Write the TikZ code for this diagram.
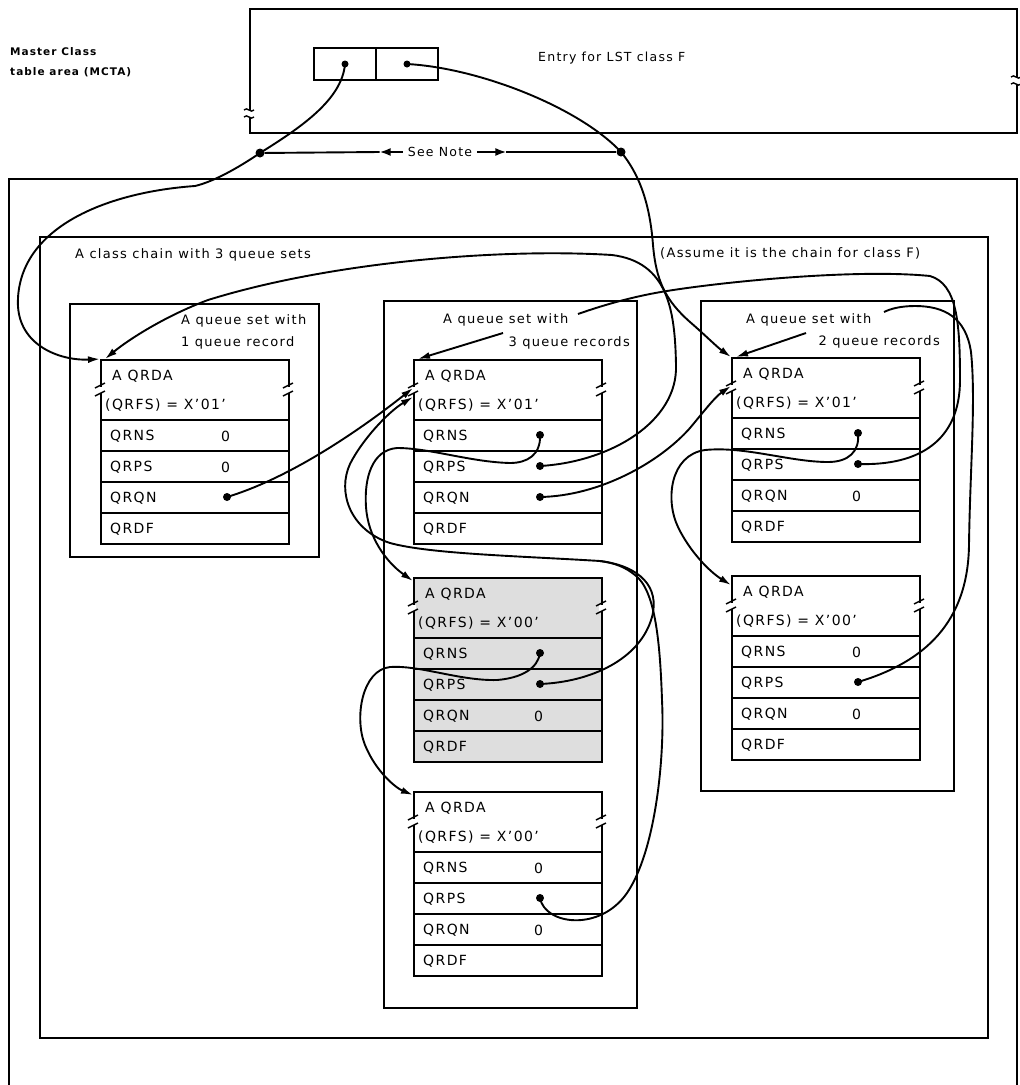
\documentclass[tikz,border=0pt]{standalone}
\usepackage{fontspec}
\setmainfont{DejaVu Sans}[LetterSpace=10]
\usetikzlibrary{arrows.meta,calc}
\tikzset{
 frame/.style={draw, line width=1.8pt, inner sep=0pt, anchor=north west},
 rowline/.style={line width=1.5pt},
 link/.style={line width=1.9pt},
 arr/.style={link, -{Latex[length=12pt,width=7pt]}},
 lbl/.style={inner sep=0pt, font=\fontsize{13}{15}\selectfont},
 chainlbl/.style={inner sep=0pt, anchor=west, font=\fontsize{13}{15}\selectfont},
 toplbl/.style={inner sep=0pt, font=\fontsize{12.5}{14}\selectfont},
 rtxt/.style={inner sep=0pt, anchor=west, font=\fontsize{14}{16}\selectfont},
 ptr/.style={circle, fill=black, inner sep=0pt, minimum size=8pt},
 brk/.style={line width=1.4pt},
}
% slanted break mark on a vertical edge of a QRDA
\newcommand\qbreak[2]{%
 \fill[white] (#1-2.5,#2-3) rectangle (#1+2.5,#2+3);
 \draw[brk] (#1-5,#2-2) -- (#1+5,#2-7);
 \draw[brk] (#1-5,#2+6) -- (#1+5,#2+1);}
% wavy break mark on a vertical edge
\newcommand\vbreak[2]{%
 \fill[white] (#1-2.5,#2-3.5) rectangle (#1+2.5,#2+3.5);
 \draw[brk] (#1-5,#2-3) .. controls (#1-2,#2-7) and (#1+2,#2+1) .. (#1+5,#2-3);
 \draw[brk] (#1-5,#2+4) .. controls (#1-2,#2) and (#1+2,#2+8) .. (#1+5,#2+4);}
% a QRDA record: name, x, y, qrfs, qrns val, qrps val, qrqn val, fill
\newcommand\qrda[8]{%
\begin{scope}[shift={(#2,#3)}]
\node[frame, fill=#8, minimum width=188pt, minimum height=184pt] (#1) at (0,0) {};
\foreach \yy in {61,92,123,154} {\draw[rowline] (0,\yy) -- (188,\yy);}
\qbreak{0}{31}\qbreak{188}{31}
\node[rtxt] (#1-a) at (12,17) {A QRDA};
\node[rtxt] (#1-f) at (5,46) {(QRFS) = X'#4'};
\node[rtxt] (#1-n) at (10,77) {QRNS};
\node[rtxt] (#1-p) at (10,108) {QRPS};
\node[rtxt] (#1-q) at (10,139) {QRQN};
\node[rtxt] (#1-d) at (10,170) {QRDF};
\node[rtxt] (#1-nv) at (121,77) {#5};
\node[rtxt] (#1-pv) at (121,108) {#6};
\node[rtxt] (#1-qv) at (121,139) {#7};
\coordinate (#1-nsd) at (127,76);
\coordinate (#1-psd) at (127,107);
\coordinate (#1-qnd) at (127,138);
\coordinate (#1-tl) at (0,0);
\coordinate (#1-tl2) at (5,0);
\coordinate (#1-b1) at (0,29);
\coordinate (#1-b2) at (0,38);
\coordinate (#1-e) at (0,10);
\coordinate (#1-e2) at (0,4);
\end{scope}}
\begin{document}
\begin{tikzpicture}[x=1pt,y=-1pt]
\useasboundingbox (0,0) rectangle (1020,1085);
\clip (0,0) rectangle (1020,1085);
\fill[white] (0,0) rectangle (1020,1085);

% ---------- Master class table area
\node[frame, minimum width=767pt, minimum height=124pt] (mcta) at (249,8) {};
\vbreak{249}{113}
\vbreak{1016}{80}
\node[draw, line width=1.7pt, minimum width=62pt, minimum height=32pt, inner sep=0pt] (cellA) at (345,64) {};
\node[draw, line width=1.7pt, minimum width=62pt, minimum height=32pt, inner sep=0pt] (cellB) at (407,64) {};
\node[ptr, minimum size=7pt] (dA) at (cellA.center) {};
\node[ptr, minimum size=7pt] (dB) at (cellB.center) {};
\node[toplbl, anchor=west] (entry) at (538,58) {Entry for LST class F};
\node[toplbl, anchor=west, font=\bfseries\fontsize{10.5}{12}\selectfont] (mc1) at (10,52) {Master Class};
\node[toplbl, anchor=west, font=\bfseries\fontsize{10.5}{12}\selectfont] (mc2) at (10,72) {table area (MCTA)};

% ---------- See Note
\node[ptr, minimum size=9pt] (seeL) at (260,153) {};
\node[ptr, minimum size=9pt] (seeR) at (621,152) {};
\node[toplbl] (note) at (440,152) {See Note};
\path (note.west) ++(-28,0) coordinate (nAL);
\path (note.east) ++(34,0) coordinate (nAR);
\draw[arr, -{Latex[length=11pt,width=8pt]}] ([xshift=-5pt]note.west) -- (nAL);
\draw[link] (nAL) -- (seeL);
\draw[arr, -{Latex[length=11pt,width=8pt]}] ([xshift=5pt]note.east) -- (nAR);
\draw[link] (nAR) -- (seeR);

% ---------- outer areas
\node[frame, minimum width=1008pt, minimum height=930pt] (outer) at (8,178) {};
\node[frame, minimum width=948pt, minimum height=801pt] (chain) at (39,236) {};
\node[chainlbl] (chainA) at (75,255) {A class chain with 3 queue sets};
\node[chainlbl] (chainB) at (660,253) {(Assume it is the chain for class F)};

% ---------- queue sets
\node[frame, minimum width=249pt, minimum height=253pt] (qsL) at (69,303) {};
\node[frame, minimum width=253pt, minimum height=707pt] (qsM) at (383,300) {};
\node[frame, minimum width=253pt, minimum height=490pt] (qsR) at (700,300) {};

\node[lbl, anchor=west] (tL1) at (181,321) {A queue set with};
\node[lbl, anchor=west] (tL2) at (181,343) {1 queue record};
\node[lbl, anchor=west] (tM1) at (443,320) {A queue set with};
\node[lbl, anchor=east] (tM2) at (630,343) {3 queue records};
\node[lbl, anchor=west] (tR1) at (746,320) {A queue set with};
\node[lbl, anchor=east] (tR2) at (940,342) {2 queue records};

% ---------- QRDAs
\qrda{L}{100}{359}{01}{0}{0}{}{white}
\qrda{m1}{413}{359}{01}{}{}{}{white}
\qrda{m2}{413}{577}{00}{}{}{0}{black!13}
\qrda{m3}{413}{791}{00}{0}{}{0}{white}
\qrda{r1}{731}{357}{01}{}{}{0}{white}
\qrda{r2}{731}{575}{00}{0}{}{0}{white}

% pointer dots
\node[ptr] (dLq) at (L-qnd) {};
\node[ptr] (dm1n) at (m1-nsd) {};
\node[ptr] (dm1p) at (m1-psd) {};
\node[ptr] (dm1q) at (m1-qnd) {};
\node[ptr] (dm2n) at (m2-nsd) {};
\node[ptr] (dm2p) at (m2-psd) {};
\node[ptr] (dm3p) at (m3-psd) {};
\node[ptr] (dr1n) at (r1-nsd) {};
\node[ptr] (dr1p) at (r1-psd) {};
\node[ptr] (dr2p) at (r2-psd) {};

\coordinate (mwith) at (578,314);
\coordinate (mfrom) at (503,333);
\coordinate (rwith) at (884,312);
\coordinate (rfrom) at (806,333);
\coordinate (mjoin) at (600,561);

% ---------- connectors
% MCTA left pointer -> first queue set
\draw[arr] (dA.center) .. controls (342,100) and (300,128) .. (seeL.center)
  .. controls (235,170) and (212,182) .. (195,186)
  .. controls (110,192) and (22,225) .. (18,298)
  .. controls (15,345) and (60,361) .. (L-tl);
% MCTA right pointer -> last queue set
\draw[arr] (dB.center) .. controls (480,68) and (580,108) .. (seeR.center)
  .. controls (640,175) and (650,205) .. (653,245)
  .. controls (656,280) and (665,300) .. (690,322)
  .. controls (705,335) and (717,347) .. (r1-tl);
% left QRQN -> middle QRDA 1
\draw[arr] (dLq.center) .. controls (290,478) and (360,430) .. (m1-b1);
% middle QRDA1 QRPS -> left QRDA
\draw[arr] (dm1p.center) .. controls (610,462) and (678,422) .. (676,365)
  .. controls (675,310) and (668,262) .. (612,255)
  .. controls (500,248) and (330,262) .. (208,300)
  .. controls (165,316) and (128,340) .. (L-tl2);
% right QRDA1 QRPS -> middle QRDA1
\draw[link] (dr1p.center) .. controls (920,466) and (960,440) .. (960,380)
  .. controls (960,322) and (957,284) .. (930,276)
  .. controls (850,268) and (700,284) .. (650,294)
  .. controls (620,300) and (595,308) .. (mwith);
\draw[arr] (mfrom) -- (m1-tl2);
% right QRDA2 QRPS -> right QRDA1
\draw[link] (dr2p.center) .. controls (925,662) and (968,622) .. (969,545)
  .. controls (970,470) and (976,400) .. (971,352)
  .. controls (966,318) and (945,306) .. (915,306)
  .. controls (900,306) and (890,309) .. (rwith);
\draw[arr] (rfrom) -- (r1-tl2);
% right QRDA1 QRNS -> right QRDA2
\draw[arr] (dr1n.center) .. controls (860,452) and (848,462) .. (828,462)
  .. controls (790,462) and (745,446) .. (705,450)
  .. controls (670,455) and (665,500) .. (678,527)
  .. controls (690,552) and (710,572) .. (r2-e);
% middle QRDA1 QRQN -> right QRDA1
\draw[arr] (dm1q.center) .. controls (600,496) and (660,462) .. (690,428)
  .. controls (705,410) and (715,397) .. (r1-b1);
% middle QRDA1 QRNS -> middle QRDA2
\draw[arr] (dm1n.center) .. controls (541,455) and (527,463) .. (510,463)
  .. controls (470,462) and (430,448) .. (397,448)
  .. controls (372,450) and (364,478) .. (366,507)
  .. controls (368,537) and (386,562) .. (m2-e2);
% middle QRDA2 QRPS -> middle QRDA1
\draw[arr] (dm2p.center) .. controls (590,682) and (640,660) .. (652,617)
  .. controls (660,587) and (640,566) .. (mjoin)
  .. controls (520,556) and (430,554) .. (390,543)
  .. controls (350,530) and (337,492) .. (350,464)
  .. controls (362,440) and (388,412) .. (m1-b2);
% middle QRDA3 QRPS
\draw[link] (dm3p.center) .. controls (545,925) and (600,932) .. (627,893)
  .. controls (655,852) and (665,760) .. (662,700)
  .. controls (660,640) and (655,590) .. (635,575)
  .. controls (625,567) and (615,563) .. (mjoin);
% middle QRDA2 QRNS -> middle QRDA3
\draw[arr] (dm2n.center) .. controls (538,668) and (522,678) .. (497,680)
  .. controls (460,681) and (420,665) .. (390,667)
  .. controls (362,670) and (354,718) .. (365,745)
  .. controls (376,772) and (396,788) .. (m3-e2);
\end{tikzpicture}
\end{document}
